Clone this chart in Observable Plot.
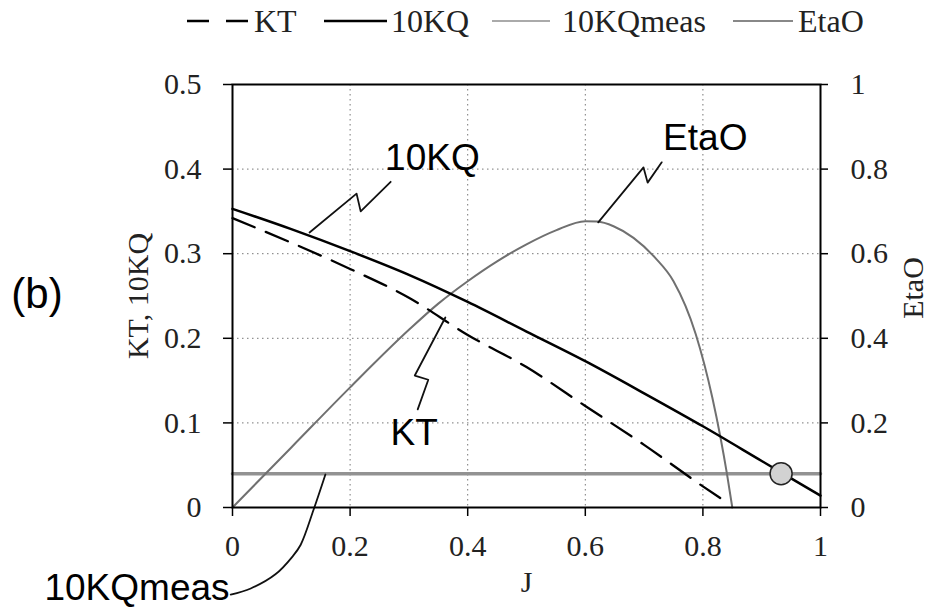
<!DOCTYPE html>
<html>
<head>
<meta charset="utf-8">
<script src="https://cdn.jsdelivr.net/npm/d3@7"></script>
<script src="https://cdn.jsdelivr.net/npm/@observablehq/plot@0.6"></script>
<style>
  body { margin: 0; background: #fff; }
  #wrap { position: relative; width: 930px; height: 608px; overflow: hidden; }
  #legend { display: block; }
  #chart svg { overflow: visible; }
</style>
</head>
<body>
<div id="wrap">
  <div id="legend"></div>
  <div id="chart"></div>
</div>
<script>
// ---------------- data ----------------
const seriesNames = ["KT", "10KQ", "10KQmeas", "EtaO"];

const jKQ  = [0, 0.1, 0.2, 0.3, 0.4, 0.5, 0.6, 0.7, 0.8, 0.9, 1.0];
const kq10 = [0.353, 0.329, 0.303, 0.275, 0.243, 0.208, 0.173, 0.135, 0.096, 0.055, 0.014];

const jKT = [0, 0.1, 0.2, 0.3, 0.4, 0.5, 0.6, 0.7, 0.8, 0.83];
const kt  = [0.342, 0.313, 0.282, 0.248, 0.204, 0.166, 0.12, 0.074, 0.025, 0.011];

const jEta = [0, 0.1, 0.2, 0.3, 0.35, 0.4, 0.45, 0.5, 0.55, 0.6, 0.62, 0.648, 0.682, 0.719, 0.75, 0.788, 0.816, 0.83, 0.841, 0.85];
const eta  = [0, 0.142, 0.284, 0.42, 0.482, 0.535, 0.582, 0.622, 0.655, 0.677, 0.676, 0.665, 0.6375, 0.59, 0.535, 0.409, 0.26, 0.165, 0.079, 0];

const jMeas  = [0, 1];
const kqMeas = [0.04, 0.04];

const opJ  = [0.933];
const opKQ = [0.040];

const xTicks   = [0, 0.2, 0.4, 0.6, 0.8, 1];
const yTicks   = [0, 0.1, 0.2, 0.3, 0.4, 0.5];
const etaTicks = [0, 0.2, 0.4, 0.6, 0.8, 1];
const gridJ = [0.2, 0.4, 0.6, 0.8];
const gridV = [0.1, 0.2, 0.3, 0.4];

// annotations (in data units of J and left axis)
const annoText = ["10KQ", "EtaO", "KT", "10KQmeas", "(b)"];
const annoJ    = [0.340, 0.804, 0.309, -0.1624, -0.3325];
const annoV    = [0.4125, 0.437, 0.0875, -0.0957, 0.252];
const annoSize = [37, 37, 37, 37, 42];

const lead10KQJ = [0.131, 0.211, 0.218, 0.269];
const lead10KQV = [0.325, 0.371, 0.350, 0.385];
const leadEtaJ  = [0.622, 0.699, 0.706, 0.730];
const leadEtaV  = [0.337, 0.402, 0.384, 0.408];
const leadKTJ   = [0.362, 0.310, 0.333, 0.315];
const leadKTV   = [0.2246, 0.156, 0.151, 0.116];
const leadMeasJ = [-0.003, 0.031, 0.073, 0.102, 0.116, 0.138, 0.158];
const leadMeasV = [-0.103, -0.0957, -0.079, -0.058, -0.044, -0.0024, 0.039];

// ---------------- build tables ----------------
const zip = (xs, ys) => xs.map((x, i) => ({x, y: ys[i]}));
const kqData   = zip(jKQ, kq10);
const ktData   = zip(jKT, kt);
const etaData  = zip(jEta, eta.map(e => e / 2));
const measData = zip(jMeas, kqMeas);
const opData   = zip(opJ, opKQ);
const annoData = annoText.map((t, i) => ({t, x: annoJ[i], y: annoV[i], s: annoSize[i]}));

const serif = "'Liberation Serif','Times New Roman',serif";
const sans  = "'Liberation Sans',Arial,sans-serif";

// ---------------- legend ----------------
const legendItems = [
  {name: seriesNames[0], x0: 187, x1: 252, tx: 254, stroke: "#000", w: 2.4, dash: "22,17"},
  {name: seriesNames[1], x0: 324, x1: 387, tx: 391, stroke: "#000", w: 2.4, dash: null},
  {name: seriesNames[2], x0: 492, x1: 550, tx: 562, stroke: "#aaa", w: 2.2, dash: null},
  {name: seriesNames[3], x0: 733, x1: 793, tx: 798, stroke: "#888", w: 2.2, dash: null}
];
const lg = d3.select("#legend").append("svg").attr("width", 930).attr("height", 44);
for (const it of legendItems) {
  lg.append("line").attr("x1", it.x0).attr("x2", it.x1).attr("y1", 21).attr("y2", 21)
    .attr("stroke", it.stroke).attr("stroke-width", it.w)
    .attr("stroke-dasharray", it.dash);
  lg.append("text").attr("x", it.tx).attr("y", 32).text(it.name)
    .attr("font-family", serif).attr("font-size", 32).attr("fill", "#222");
}

// ---------------- chart ----------------
const leaderOpts = {x: "x", y: "y", stroke: "#111", strokeWidth: 1.8};

const chart = Plot.plot({
  width: 930,
  height: 564,
  marginTop: 36,
  marginBottom: 105,
  marginLeft: 232,
  marginRight: 110,
  x: {domain: [0, 1]},
  y: {domain: [0, 0.5]},
  style: {fontFamily: serif, fontSize: "30px", background: "#fff", overflow: "visible"},
  marks: [
    Plot.gridX(gridJ, {stroke: "#777", strokeOpacity: 1, strokeDasharray: "1.5,3.5", strokeWidth: 1}),
    Plot.gridY(gridV, {stroke: "#777", strokeOpacity: 1, strokeDasharray: "1.5,3.5", strokeWidth: 1}),
    Plot.line(measData, {x: "x", y: "y", stroke: "#929292", strokeWidth: 3.5}),
    Plot.line(etaData, {x: "x", y: "y", stroke: "#707070", strokeWidth: 2, curve: "monotone-x"}),
    Plot.line(ktData, {x: "x", y: "y", stroke: "#000", strokeWidth: 2.3, strokeDasharray: "24,12", curve: "monotone-x"}),
    Plot.line(kqData, {x: "x", y: "y", stroke: "#000", strokeWidth: 2.5, curve: "monotone-x"}),
    Plot.dot(opData, {x: "x", y: "y", r: 11, fill: "#d2d2d2", stroke: "#222", strokeWidth: 1.5}),
    Plot.line(zip(lead10KQJ, lead10KQV), leaderOpts),
    Plot.line(zip(leadEtaJ, leadEtaV), leaderOpts),
    Plot.line(zip(leadKTJ, leadKTV), leaderOpts),
    Plot.line(zip(leadMeasJ, leadMeasV), {...leaderOpts, curve: "catmull-rom"}),
    Plot.text(annoData, {x: "x", y: "y", text: "t", fontSize: d => d.s, fontFamily: sans, fill: "#000", lineAnchor: "middle", textAnchor: "middle"}),
    Plot.frame({stroke: "#000", strokeWidth: 2}),
    Plot.axisX(xTicks, {tickSize: 9, tickPadding: 18, tickFormat: d => String(d), label: null, stroke: "#000", strokeWidth: 1.5, fill: "#222", fontSize: 30}),
    Plot.axisY(yTicks, {anchor: "left", tickSize: 9, tickPadding: 22, tickFormat: d => String(d), label: null, stroke: "#000", strokeWidth: 1.5, fill: "#222", fontSize: 30}),
    Plot.axisY(etaTicks.map(e => e / 2), {anchor: "right", tickSize: 7, tickPadding: 23, tickFormat: d => String(Math.round(d * 20) / 10), label: null, stroke: "#000", strokeWidth: 1.5, fill: "#222", fontSize: 30}),
    Plot.text(["KT, 10KQ"], {frameAnchor: "left", dx: -94, rotate: -90, textAnchor: "middle", fontSize: 30, fontFamily: serif, fill: "#222"}),
    Plot.text(["EtaO"], {frameAnchor: "right", dx: 93, dy: -8, rotate: -90, textAnchor: "middle", fontSize: 30, fontFamily: serif, fill: "#222"}),
    Plot.text(["J"], {frameAnchor: "bottom", dy: 84, fontSize: 30, fontFamily: serif, fill: "#222"})
  ]
});
document.getElementById("chart").appendChild(chart);
</script>
</body>
</html>
